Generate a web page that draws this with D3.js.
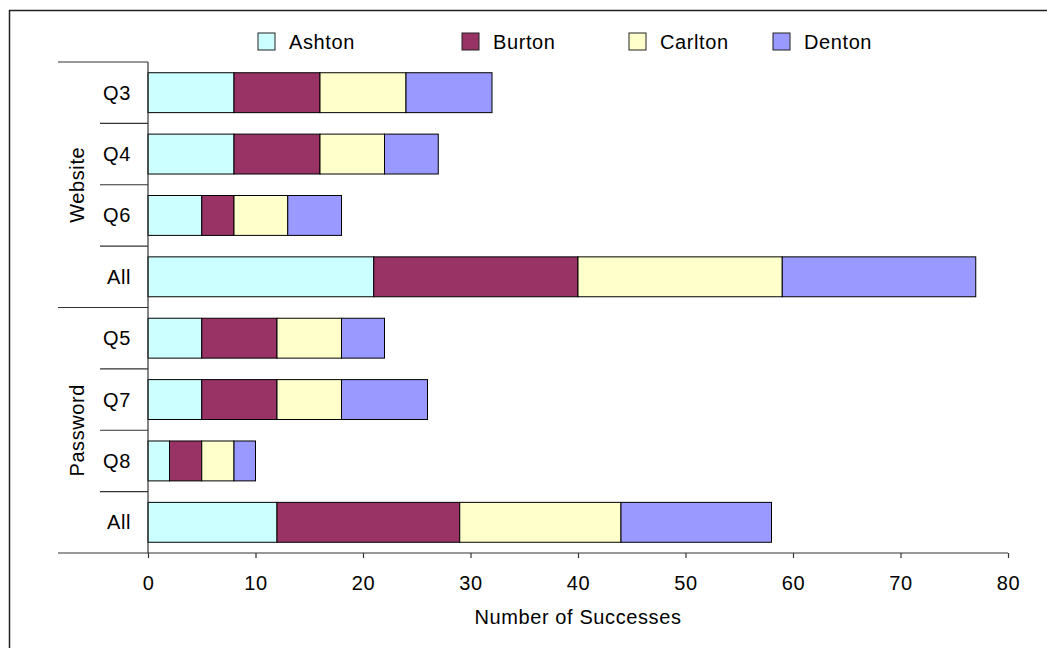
<!DOCTYPE html>
<html>
<head>
<meta charset="utf-8">
<script src="https://cdn.jsdelivr.net/npm/d3@7"></script>
<style>
  html, body { margin: 0; padding: 0; background: #fff; }
  svg text { font-family: "Liberation Sans", Arial, sans-serif; fill: #000; letter-spacing: 0.6px; }
</style>
</head>
<body>
<svg id="chart" width="1047" height="648"></svg>
<script>
// Stacked successes per question, grouped by task
const groups = ["Website", "Password"];
const questions = [
  ["Q3", "Q4", "Q6", "All"],
  ["Q5", "Q7", "Q8", "All"]
];
const seriesNames = ["Ashton", "Burton", "Carlton", "Denton"];
const seriesColors = ["#ccffff", "#993366", "#ffffcc", "#9999ff"];
const ashton  = [8, 8, 5, 21, 5, 5, 2, 12];
const burton  = [8, 8, 3, 19, 7, 7, 3, 17];
const carlton = [8, 6, 5, 19, 6, 6, 3, 15];
const denton  = [8, 5, 5, 18, 4, 8, 2, 14];
const xTicks = [0, 10, 20, 30, 40, 50, 60, 70, 80];
const xTitle = "Number of Successes";

const rows = [];
questions.forEach((qs, g) => qs.forEach(q => rows.push({ key: groups[g] + "-" + q, label: q, group: groups[g] })));
rows.forEach((r, i) => {
  r.Ashton = ashton[i]; r.Burton = burton[i]; r.Carlton = carlton[i]; r.Denton = denton[i];
});

const FS = 20;
const svg = d3.select("#chart");
const plotL = 148, plotR = 1008, plotT = 62, plotB = 553;

const x = d3.scaleLinear().domain([0, 80]).range([plotL, plotR]);
const y = d3.scaleBand().domain(rows.map(r => r.key)).range([plotT, plotB]).paddingInner(0.35).paddingOuter(0.175);
const yRow = d3.scaleBand().domain(rows.map(r => r.key)).range([plotT, plotB]);
const color = d3.scaleOrdinal().domain(seriesNames).range(seriesColors);

// frame
svg.append("path")
  .attr("d", `M9.5,648 L9.5,10.5 L1047,10.5`)
  .attr("fill", "none").attr("stroke", "#222").attr("stroke-width", 1.5);

// stacked bars
const stack = d3.stack().keys(seriesNames)(rows);
svg.append("g").selectAll("g").data(stack).join("g")
  .attr("fill", d => color(d.key))
  .selectAll("rect").data(d => d).join("rect")
  .attr("x", d => x(d[0]))
  .attr("y", d => y(d.data.key))
  .attr("width", d => x(d[1]) - x(d[0]))
  .attr("height", y.bandwidth())
  .attr("stroke", "#000").attr("stroke-width", 1);

// category separators on the left
const sep = svg.append("g").attr("stroke", "#333").attr("stroke-width", 1.2);
rows.forEach((r, i) => {
  const yy = yRow(r.key);
  const isGroupStart = i % 4 === 0;
  sep.append("line")
    .attr("x1", isGroupStart ? 58 : 100).attr("x2", plotL)
    .attr("y1", yy).attr("y2", yy);
});

// vertical axis line
svg.append("line")
  .attr("x1", plotL).attr("x2", plotL).attr("y1", plotT).attr("y2", plotB)
  .attr("stroke", "#333").attr("stroke-width", 1.2);

// category labels
svg.append("g").selectAll("text").data(rows).join("text")
  .attr("x", 131)
  .attr("y", d => yRow(d.key) + yRow.bandwidth() / 2)
  .attr("dy", "0.35em")
  .attr("text-anchor", "end")
  .attr("font-size", FS)
  .text(d => d.label);

// group labels
groups.forEach((g, gi) => {
  const y0 = yRow(rows[gi * 4].key);
  const y1 = yRow(rows[gi * 4 + 3].key) + yRow.bandwidth();
  const cy = (y0 + y1) / 2;
  svg.append("text")
    .attr("transform", `translate(77,${cy}) rotate(-90)`)
    .attr("dy", "0.35em")
    .attr("text-anchor", "middle")
    .attr("font-size", FS)
    .text(g);
});

// bottom axis
const xAxis = d3.axisBottom(x).tickValues(xTicks).tickSize(5).tickPadding(18).tickFormat(d3.format("d"));
const ax = svg.append("g").attr("transform", `translate(0,${plotB})`).call(xAxis);
ax.select(".domain").remove();
ax.selectAll(".tick line").attr("stroke", "#333").attr("stroke-width", 1.2);
ax.selectAll(".tick text").attr("font-size", FS).attr("font-family", "Liberation Sans, Arial, sans-serif").attr("fill", "#000");
svg.append("line")
  .attr("x1", 58).attr("x2", plotR).attr("y1", plotB).attr("y2", plotB)
  .attr("stroke", "#333").attr("stroke-width", 1.2);

svg.append("text")
  .attr("x", (plotL + plotR) / 2).attr("y", 617).attr("dy", "0.35em")
  .attr("text-anchor", "middle").attr("font-size", FS)
  .text(xTitle);

// legend
const legendX = [258, 462, 629, 773];
const lg = svg.append("g");
seriesNames.forEach((s, i) => {
  lg.append("rect")
    .attr("x", legendX[i]).attr("y", 33).attr("width", 17).attr("height", 17)
    .attr("fill", color(s)).attr("stroke", "#222").attr("stroke-width", 1);
  lg.append("text")
    .attr("x", legendX[i] + 31).attr("y", 42).attr("dy", "0.35em")
    .attr("font-size", FS).text(s);
});
</script>
</body>
</html>
